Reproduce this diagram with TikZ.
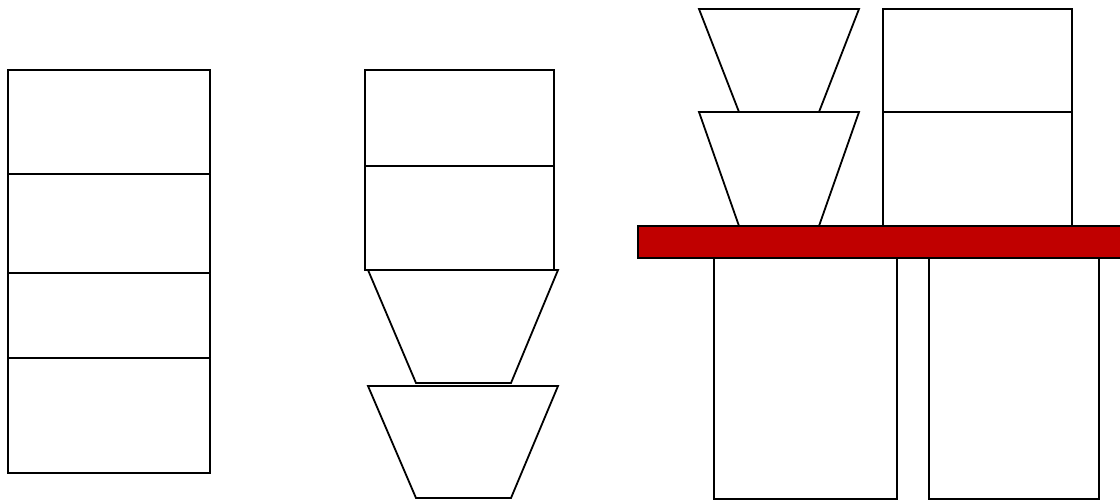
\documentclass[tikz,border=0pt]{standalone}
\usepackage{tikz}
\usetikzlibrary{calc}
\definecolor{barred}{HTML}{C00000}

\begin{document}
\begin{tikzpicture}[
  x=1pt,y=-1pt,
  block/.style={draw=black,line width=1.8pt,fill=white,line join=miter},
  cup/.style={draw=black,line width=1.8pt,fill=white,line join=miter},
  shelf/.style={draw=black,line width=1.8pt,fill=barred}
]
\useasboundingbox (0,0) rectangle (1120,500);
% left stack
\draw[block] (8,70) rectangle (210,473);
\foreach \yy in {174,273,358}
  \draw[block] (8,\yy) -- (210,\yy);
% middle stack
\draw[block] (365,70) rectangle (554,166);
\draw[block] (365,166) rectangle (554,270);
\draw[cup] (368,270) -- (558,270) -- (511,383) -- (416,383) -- cycle;
\draw[cup] (368,386) -- (558,386) -- (511,498) -- (416,498) -- cycle;
% right: shelf with two legs
\draw[block] (714,258) rectangle (897,499);
\draw[block] (929,258) rectangle (1099,499);
\draw[shelf] (638,226) rectangle (1126,258);
\draw[cup] (699,9) -- (859,9) -- (819,112) -- (739,112) -- cycle;
\draw[cup] (699,112) -- (859,112) -- (819,226) -- (739,226) -- cycle;
\draw[block] (883,9) rectangle (1072,112);
\draw[block] (883,112) rectangle (1072,226);
\end{tikzpicture}
\end{document}
